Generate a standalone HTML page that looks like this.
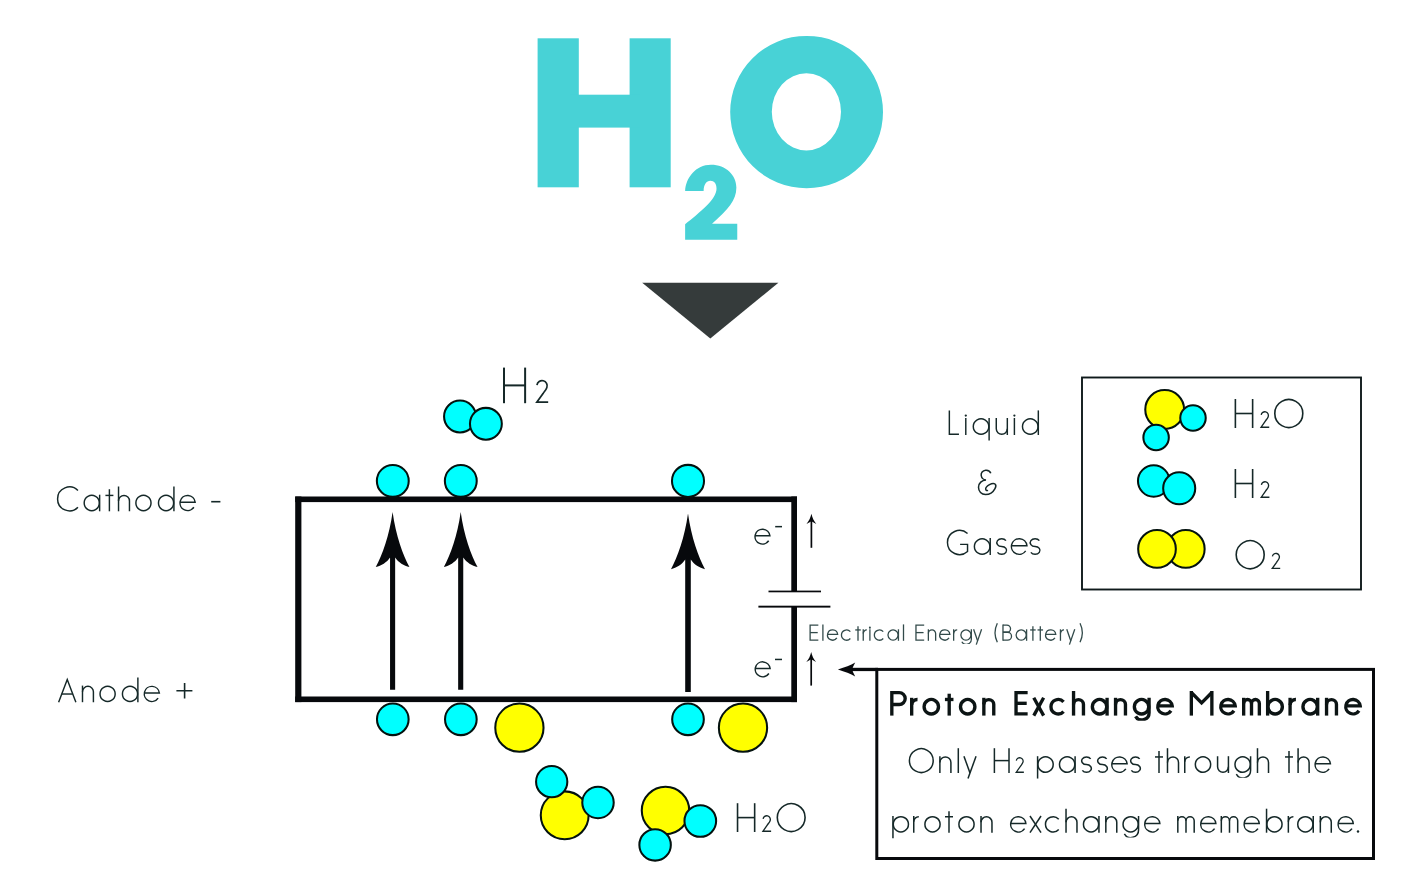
<!DOCTYPE html>
<html><head><meta charset="utf-8"><title>H2O electrolysis</title>
<style>html,body{margin:0;padding:0;background:#fff;font-family:"Liberation Sans",sans-serif}svg{display:block}</style>
</head><body>
<svg width="1420" height="892" viewBox="0 0 1420 892">
<title>H2O electrolysis - proton exchange membrane</title>
<desc>H2O. Cathode -. Anode +. H2. H2O. Liquid &amp; Gases: H2O, H2, O2. e-. Electrical Energy (Battery). Proton Exchange Membrane. Only H2 passes through the proton exchange memebrane.</desc>
<rect width="1420" height="892" fill="#ffffff"/>
<defs><clipPath id="c0"><rect x="-5" y="-49.2" width="60" height="52.48"/></clipPath><clipPath id="c1"><rect x="-5" y="-73.8" width="60" height="78.87"/></clipPath><clipPath id="c2"><rect x="-5" y="-74.4" width="60" height="79.19"/></clipPath><clipPath id="c3"><rect x="-5" y="-72" width="60" height="76.76"/></clipPath></defs>
<g fill="#48d2d6">
<rect x="537.6" y="38.3" width="41.2" height="149"/>
<rect x="629.6" y="38.3" width="41.1" height="149"/>
<rect x="570" y="94.7" width="70" height="32.9"/>
<path fill-rule="evenodd" d="M730.2,112.1 a76.4,76.2 0 1 0 152.8,0 a76.4,76.2 0 1 0 -152.8,0 Z M771.8,111.8 a34.6,38.6 0 1 1 69.2,0 a34.6,38.6 0 1 1 -69.2,0 Z"/>
<path d="M685.13,190.92 C685.7,178.03 695.78,164.8 710.92,164.8 C726.05,164.8 736.37,175.22 736.37,187.56 C736.37,200.45 728.3,209.42 712.04,223.77 L737.26,223.77 L737.26,239.69 L685.13,239.69 L685.13,224.22 C699.15,212.78 716.52,199.33 716.52,188.68 C716.52,183.63 714.28,180.83 710.36,180.83 C706.43,180.83 703.63,184.75 703.63,190.92 Z"/>
</g>
<path fill="#353b3b" d="M642.2,282.8 L778.4,282.8 L710.3,338.4 Z"/>
<g fill="#07090c">
<rect x="295.2" y="496.5" width="501.8" height="5.6"/>
<rect x="295.2" y="696.5" width="501.8" height="5.6"/>
<rect x="295.2" y="496.5" width="6.2" height="205.6"/>
<rect x="791.3" y="496.5" width="5.7" height="95.2"/>
<rect x="791.3" y="606.6" width="5.7" height="95.5"/>
<rect x="768.5" y="590.6" width="52.5" height="1.7"/>
<rect x="758.4" y="605.7" width="72" height="1.9"/>
</g>
<path fill="#07090c" d="M392.6,512 C395.87,535.76 403,555.07 409.43,567.04 C403.99,565.86 398.32,562.49 395.15,557.54 L395.15,689.8 L390.05,689.8 L390.05,557.54 C386.88,562.49 381.22,565.86 375.77,567.04 C382.21,555.07 389.33,535.76 392.6,512 Z"/>
<path fill="#07090c" d="M460.7,512 C463.97,535.76 471.09,555.07 477.53,567.04 C472.08,565.86 466.42,562.49 463.25,557.54 L463.25,689.8 L458.15,689.8 L458.15,557.54 C454.98,562.49 449.31,565.86 443.87,567.04 C450.31,555.07 457.43,535.76 460.7,512 Z"/>
<path fill="#07090c" d="M688,513.6 C691.3,537.6 698.5,557.1 705,569.2 C699.5,568 694,564.6 690.8,559.6 L690.8,692 L685.2,692 L685.2,559.6 C682,564.6 676.5,568 671,569.2 C677.5,557.1 684.7,537.6 688,513.6 Z"/>
<path d="M811.4,518.8 L811.4,547.8" stroke="#07090c" stroke-width="1.7" fill="none"/><path d="M811.4,513.8 C812.3,517.8 813.8,521 816.3,523.9 L811.4,521.2 L806.5,523.9 C809,521 810.5,517.8 811.4,513.8 Z" fill="#07090c"/>
<path d="M811.2,656.9 L811.2,685.6" stroke="#07090c" stroke-width="1.7" fill="none"/><path d="M811.2,651.9 C812.1,655.9 813.6,659.1 816.1,662 L811.2,659.3 L806.3,662 C808.8,659.1 810.3,655.9 811.2,651.9 Z" fill="#07090c"/>
<circle cx="460" cy="416.5" r="15.93" fill="#00ffff" stroke="#04120f" stroke-width="2.05"/>
<circle cx="485.9" cy="423.8" r="15.93" fill="#00ffff" stroke="#04120f" stroke-width="2.05"/>
<circle cx="392.8" cy="480.9" r="15.93" fill="#00ffff" stroke="#04120f" stroke-width="2.05"/>
<circle cx="460.8" cy="480.9" r="15.93" fill="#00ffff" stroke="#04120f" stroke-width="2.05"/>
<circle cx="688" cy="480.9" r="16.03" fill="#00ffff" stroke="#04120f" stroke-width="2.05"/>
<circle cx="392.8" cy="719.3" r="15.83" fill="#00ffff" stroke="#04120f" stroke-width="2.05"/>
<circle cx="460.85" cy="719.3" r="15.83" fill="#00ffff" stroke="#04120f" stroke-width="2.05"/>
<circle cx="688" cy="719.3" r="15.83" fill="#00ffff" stroke="#04120f" stroke-width="2.05"/>
<circle cx="519.4" cy="727.7" r="24.13" fill="#ffff00" stroke="#04120f" stroke-width="2.05"/>
<circle cx="743" cy="727.7" r="24.13" fill="#ffff00" stroke="#04120f" stroke-width="2.05"/>
<circle cx="564.7" cy="815.3" r="23.93" fill="#ffff00" stroke="#04120f" stroke-width="2.05"/>
<circle cx="551.7" cy="781.7" r="15.63" fill="#00ffff" stroke="#04120f" stroke-width="2.05"/>
<circle cx="598" cy="802.5" r="15.73" fill="#00ffff" stroke="#04120f" stroke-width="2.05"/>
<circle cx="665.5" cy="810.5" r="23.73" fill="#ffff00" stroke="#04120f" stroke-width="2.05"/>
<circle cx="700.3" cy="821" r="15.83" fill="#00ffff" stroke="#04120f" stroke-width="2.05"/>
<circle cx="655.1" cy="844.9" r="15.73" fill="#00ffff" stroke="#04120f" stroke-width="2.05"/>
<circle cx="1164.7" cy="409.5" r="19.43" fill="#ffff00" stroke="#04120f" stroke-width="2.05"/>
<circle cx="1193" cy="418" r="12.73" fill="#00ffff" stroke="#04120f" stroke-width="2.05"/>
<circle cx="1156.1" cy="437.5" r="12.73" fill="#00ffff" stroke="#04120f" stroke-width="2.05"/>
<circle cx="1153.7" cy="481" r="15.73" fill="#00ffff" stroke="#04120f" stroke-width="2.05"/>
<circle cx="1179.2" cy="488.3" r="16.03" fill="#00ffff" stroke="#04120f" stroke-width="2.05"/>
<circle cx="1185.8" cy="548.9" r="18.83" fill="#ffff00" stroke="#04120f" stroke-width="2.05"/>
<circle cx="1157" cy="548.9" r="18.83" fill="#ffff00" stroke="#04120f" stroke-width="2.05"/>
<rect x="1082" y="377.5" width="1279" height="0" fill="none"/>
<rect x="1082" y="377.5" width="279" height="212" fill="none" stroke="#0f1a1b" stroke-width="1.9"/>
<rect x="876.8" y="669.4" width="496.7" height="189.1" fill="none" stroke="#07090c" stroke-width="3.0"/>
<rect x="851" y="667.8" width="27" height="3.3" fill="#07090c"/>
<path fill="#07090c" d="M837.9,669.4 C845,667.2 850.5,665.2 855.2,662.4 C853.3,666 852.5,668 852.3,669.4 C852.5,670.8 853.3,672.8 855.2,676.4 C850.5,673.6 845,671.6 837.9,669.4 Z"/>
<g fill="none" color="#152828" stroke="#152828" stroke-width="1.45" stroke-linecap="butt" stroke-linejoin="miter"><g transform="translate(56.86,511.3)"><path d="M21.08,-20.83A11.92,11.92 0 0 0 0.72,-12.4A11.92,11.92 0 0 0 21.08,-3.97"/></g><g transform="translate(83.45,511.3)"><path d="M15.88,-8.3A7.58,7.58 0 0 1 4.51,-1.74A7.58,7.58 0 0 1 4.51,-14.86A7.58,7.58 0 0 1 15.88,-8.3Z"/><path d="M16.18,-16.6 L16.18,0"/></g><g transform="translate(105.42,511.3)"><path d="M3.98,-22.07 L3.98,0"/><path d="M0,-15.88 L7.97,-15.88"/></g><g transform="translate(117.82,511.3)"><path d="M0.72,-24.8 L0.72,0"/><path d="M0.72,-10.42A5.46,5.46 0 0 1 11.64,-10.42L11.64,0"/></g><g transform="translate(135.15,511.3)"><path d="M15.88,-8.3A7.58,7.58 0 0 1 4.51,-1.74A7.58,7.58 0 0 1 4.51,-14.86A7.58,7.58 0 0 1 15.88,-8.3Z"/></g><g transform="translate(157.75,511.3)"><path d="M15.88,-8.3A7.58,7.58 0 0 1 4.51,-1.74A7.58,7.58 0 0 1 4.51,-14.86A7.58,7.58 0 0 1 15.88,-8.3Z"/><path d="M16.18,-24.8 L16.18,0"/></g><g transform="translate(179.3,511.3)"><path d="M0.77,-9.13 L15.83,-9.13A7.58,7.58 0 0 0 0.95,-10.11A7.58,7.58 0 0 0 14.58,-4.06"/></g></g>
<rect x="211.2" y="500.9" width="9.2" height="1.6" fill="#152828"/>
<g fill="none" color="#152828" stroke="#152828" stroke-width="1.45" stroke-linecap="butt" stroke-linejoin="miter"><g transform="translate(57.83,702.2)"><path d="M0.8,0 L9.42,-22.74 L18.05,0"/><path d="M3.9,-8.18 L14.95,-8.18"/></g><g transform="translate(81.77,702.2)"><path d="M0.72,-16.6 L0.72,0"/><path d="M0.72,-10.42A5.46,5.46 0 0 1 11.64,-10.42L11.64,0"/></g><g transform="translate(99.3,702.2)"><path d="M15.88,-8.3A7.58,7.58 0 0 1 4.51,-1.74A7.58,7.58 0 0 1 4.51,-14.86A7.58,7.58 0 0 1 15.88,-8.3Z"/></g><g transform="translate(121.7,702.2)"><path d="M15.88,-8.3A7.58,7.58 0 0 1 4.51,-1.74A7.58,7.58 0 0 1 4.51,-14.86A7.58,7.58 0 0 1 15.88,-8.3Z"/><path d="M16.18,-24.8 L16.18,0"/></g><g transform="translate(143.55,702.2)"><path d="M0.77,-9.13 L15.83,-9.13A7.58,7.58 0 0 0 0.95,-10.11A7.58,7.58 0 0 0 14.58,-4.06"/></g></g>
<path d="M176.4,690.7 H192.4 M184.6,682.9 V698.6" stroke="#152828" stroke-width="1.6" fill="none"/>
<g fill="none" color="#152828" stroke="#152828" stroke-width="2" stroke-linecap="butt" stroke-linejoin="miter"><g transform="translate(502.98,403.2)"><path d="M1,-35.6 L1,0"/><path d="M22.14,-35.6 L22.14,0"/><path d="M1,-17.8 L22.14,-17.8"/></g><g transform="translate(535.91,403.2)"><path stroke-width="1.7" d="M1.05,-18.18A5.14,5.14 0 0 1 7.38,-22.45A5.14,5.14 0 0 1 10.96,-15.71C9.67,-12.16 8.35,-11.88 7.14,-9.65L0.9,-1 L12.27,-1"/></g></g>
<g fill="none" color="#152828" stroke="#152828" stroke-width="1.6" stroke-linecap="butt" stroke-linejoin="miter"><g transform="translate(1234.58,428)"><path d="M0.8,-29 L0.8,0"/><path d="M18.05,-29 L18.05,0"/><path d="M0.8,-14.5 L18.05,-14.5"/></g><g transform="translate(1260.38,428)"><path stroke-width="1.36" d="M0.84,-13.08A3.62,3.62 0 0 1 5.3,-16.09A3.62,3.62 0 0 1 7.82,-11.34C6.89,-8.79 5.98,-8.6 5.12,-7L0.72,-0.8 L8.84,-0.8"/></g><g transform="translate(1274.01,428)"><path d="M28.78,-14.5A13.99,13.99 0 0 1 7.8,-2.38A13.99,13.99 0 0 1 7.79,-26.62A13.99,13.99 0 0 1 28.78,-14.5Z"/></g></g>
<g fill="none" color="#152828" stroke="#152828" stroke-width="1.6" stroke-linecap="butt" stroke-linejoin="miter"><g transform="translate(1234.58,498)"><path d="M0.8,-29 L0.8,0"/><path d="M18.05,-29 L18.05,0"/><path d="M0.8,-14.5 L18.05,-14.5"/></g><g transform="translate(1260.58,498)"><path stroke-width="1.36" d="M0.84,-13.08A3.62,3.62 0 0 1 5.3,-16.09A3.62,3.62 0 0 1 7.82,-11.34C6.89,-8.79 5.98,-8.6 5.12,-7L0.72,-0.8 L8.84,-0.8"/></g></g>
<g fill="none" color="#152828" stroke="#152828" stroke-width="1.6" stroke-linecap="butt" stroke-linejoin="miter"><g transform="translate(1235.41,569.2)"><path d="M28.78,-14.5A13.99,13.99 0 0 1 7.8,-2.38A13.99,13.99 0 0 1 7.79,-26.62A13.99,13.99 0 0 1 28.78,-14.5Z"/></g><g transform="translate(1271.58,569.2)"><path stroke-width="1.36" d="M0.83,-12.77A3.52,3.52 0 0 1 5.17,-15.7A3.52,3.52 0 0 1 7.62,-11.08C6.71,-8.59 5.83,-8.41 5,-6.84L0.72,-0.8 L8.63,-0.8"/></g></g>
<g fill="none" color="#152828" stroke="#152828" stroke-width="1.6" stroke-linecap="butt" stroke-linejoin="miter"><g transform="translate(736.74,832)"><path d="M0.8,-28.8 L0.8,0"/><path d="M17.92,-28.8 L17.92,0"/><path d="M0.8,-14.4 L17.92,-14.4"/></g><g transform="translate(762.28,832)"><path stroke-width="1.36" d="M0.84,-13.08A3.62,3.62 0 0 1 5.3,-16.09A3.62,3.62 0 0 1 7.82,-11.34C6.89,-8.79 5.98,-8.6 5.12,-7L0.72,-0.8 L8.84,-0.8"/></g><g transform="translate(776.51,832)"><path d="M28.58,-14.4A13.89,13.89 0 0 1 7.74,-2.37A13.89,13.89 0 0 1 7.74,-26.43A13.89,13.89 0 0 1 28.58,-14.4Z"/></g></g>
<g fill="none" color="#152828" stroke="#152828" stroke-width="1.45" stroke-linecap="butt" stroke-linejoin="miter"><g transform="translate(948.63,435)"><path d="M0.72,-24.6 L0.72,-0.72 L10.33,-0.72"/></g><g transform="translate(965.07,435)"><path d="M0.72,-17 L0.72,0"/><circle cx="0.72" cy="-19.46" r="1.13" fill="currentColor" stroke="none"/></g><g transform="translate(972.55,435)"><path d="M16.27,-8.5A7.78,7.78 0 0 1 4.61,-1.77A7.78,7.78 0 0 1 4.61,-15.23A7.78,7.78 0 0 1 16.27,-8.5Z"/><path d="M16.57,-17 L16.57,5.61"/></g><g transform="translate(995.55,435)"><path d="M11.77,-17 L11.77,0"/><path d="M0.72,-17L0.72,-6.25A5.52,5.52 0 0 0 11.77,-6.25"/></g><g transform="translate(1013.68,435)"><path d="M0.72,-17 L0.72,0"/><circle cx="0.72" cy="-19.46" r="1.13" fill="currentColor" stroke="none"/></g><g transform="translate(1021.75,435)"><path d="M16.27,-8.5A7.78,7.78 0 0 1 4.61,-1.77A7.78,7.78 0 0 1 4.61,-15.23A7.78,7.78 0 0 1 16.27,-8.5Z"/><path d="M16.57,-24.6 L16.57,0"/></g></g>
<path transform="translate(936,455) scale(0.1)" fill="none" stroke="#152828" stroke-width="15" d="M548,182 C540,160 518,150 496,152 C466,155 448,180 452,205 C456,232 475,247 500,250 C460,252 425,280 425,322 C425,365 455,395 495,395 C535,395 572,370 590,336 C600,318 602,300 590,290 C578,281 555,285 535,297 C513,310 494,326 497,342 C499,356 510,359 520,353"/>
<g fill="none" color="#152828" stroke="#152828" stroke-width="1.45" stroke-linecap="butt" stroke-linejoin="miter"><g transform="translate(946.74,555)"><path d="M20.8,-21.44A12.03,12.03 0 0 0 0.72,-12.5A12.03,12.03 0 0 0 20.8,-3.56L20.8,-10.62 L13.35,-10.62"/></g><g transform="translate(973.65,555)"><path d="M16.27,-8.5A7.78,7.78 0 0 1 4.61,-1.77A7.78,7.78 0 0 1 4.61,-15.23A7.78,7.78 0 0 1 16.27,-8.5Z"/><path d="M16.57,-17 L16.57,0"/></g><g transform="translate(996.09,555)"><path d="M9.84,-14.33A4.89,3.89 0 0 0 1.38,-14.33A4.89,3.89 0 0 0 5.61,-8.5A4.89,3.89 0 0 1 9.84,-2.67A4.89,3.89 0 0 1 1.38,-2.67"/></g><g transform="translate(1010.7,555)"><path d="M0.77,-9.35 L16.23,-9.35A7.78,7.78 0 0 0 0.95,-10.36A7.78,7.78 0 0 0 14.95,-4.15"/></g><g transform="translate(1029.49,555)"><path d="M9.84,-14.33A4.89,3.89 0 0 0 1.38,-14.33A4.89,3.89 0 0 0 5.61,-8.5A4.89,3.89 0 0 1 9.84,-2.67A4.89,3.89 0 0 1 1.38,-2.67"/></g></g>
<g fill="none" color="#152828" stroke="#152828" stroke-width="1.5" stroke-linecap="butt" stroke-linejoin="miter"><g transform="translate(754.3,544.8)"><path d="M0.8,-9.02 L15.6,-9.02A7.45,7.45 0 0 0 0.97,-9.98A7.45,7.45 0 0 0 14.38,-4.03"/></g></g>
<rect x="775.2" y="525.9" width="6.8" height="1.5" fill="#152828"/>
<g fill="none" color="#152828" stroke="#152828" stroke-width="1.5" stroke-linecap="butt" stroke-linejoin="miter"><g transform="translate(754.5,677.5)"><path d="M0.8,-9.02 L15.6,-9.02A7.45,7.45 0 0 0 0.97,-9.98A7.45,7.45 0 0 0 14.38,-4.03"/></g></g>
<rect x="775" y="658.7" width="7" height="1.5" fill="#152828"/>
<g fill="none" color="#324a4a" stroke="#324a4a" stroke-width="1.3" stroke-linecap="butt" stroke-linejoin="miter"><g transform="translate(809.47,640.8)"><path d="M8.86,-15.75 L0.65,-15.75 L0.65,-0.65 L8.86,-0.65"/><path d="M0.65,-8.2 L8.24,-8.2"/></g><g transform="translate(822.25,640.8)"><path d="M0.65,-16.4 L0.65,0"/></g><g transform="translate(826.85,640.8)"><path d="M0.68,-6.33 L10.82,-6.33A5.1,5.1 0 0 0 0.8,-6.96A5.1,5.1 0 0 0 9.98,-2.9"/></g><g transform="translate(840.81,640.8)"><path d="M9.54,-9.16A5.1,5.1 0 0 0 0.65,-5.75A5.1,5.1 0 0 0 9.54,-2.34"/></g><g transform="translate(855.24,640.8)"><path d="M2.76,-14.6 L2.76,0"/><path d="M0,-10.85 L5.52,-10.85"/></g><g transform="translate(862.6,640.8)"><path d="M0.65,-11.5 L0.65,0"/><path d="M0.65,-7.42A3.43,3.43 0 0 1 4.2,-10.85"/></g><g transform="translate(869.25,640.8)"><path d="M0.65,-11.5 L0.65,0"/><circle cx="0.65" cy="-13.17" r="1.01" fill="currentColor" stroke="none"/></g><g transform="translate(873.71,640.8)"><path d="M9.54,-9.16A5.1,5.1 0 0 0 0.65,-5.75A5.1,5.1 0 0 0 9.54,-2.34"/></g><g transform="translate(887.3,640.8)"><path d="M10.85,-5.75A5.1,5.1 0 0 1 3.2,-1.33A5.1,5.1 0 0 1 3.2,-10.17A5.1,5.1 0 0 1 10.85,-5.75Z"/><path d="M11.15,-11.5 L11.15,0"/></g><g transform="translate(902.85,640.8)"><path d="M0.65,-16.4 L0.65,0"/></g><g transform="translate(915.32,640.8)"><path d="M8.86,-15.75 L0.65,-15.75 L0.65,-0.65 L8.86,-0.65"/><path d="M0.65,-8.2 L8.24,-8.2"/></g><g transform="translate(927.72,640.8)"><path d="M0.65,-11.5 L0.65,0"/><path d="M0.65,-7.22A3.63,3.63 0 0 1 7.92,-7.22L7.92,0"/></g><g transform="translate(939.05,640.8)"><path d="M0.68,-6.33 L10.82,-6.33A5.1,5.1 0 0 0 0.8,-6.96A5.1,5.1 0 0 0 9.98,-2.9"/></g><g transform="translate(953,640.8)"><path d="M0.65,-11.5 L0.65,0"/><path d="M0.65,-7.42A3.43,3.43 0 0 1 4.2,-10.85"/></g><g transform="translate(960.2,640.8)"><path d="M10.85,-5.75A5.1,5.1 0 0 1 3.2,-1.33A5.1,5.1 0 0 1 3.2,-10.17A5.1,5.1 0 0 1 10.85,-5.75Z"/><path clip-path="url(#c0)" d="M11.15,-11.5 L11.15,-1.57A5.1,5.1 0 0 1 1.63,0.98"/></g><g transform="translate(972.88,640.8)"><path d="M0.72,-11.5 L4.71,0"/><path d="M8.71,-11.5 L3.39,3.8"/></g><g transform="translate(994.05,640.8)"><path d="M3.28,-17.55 Q-1.33,-8.04 3.28,1.48"/></g><g transform="translate(1002.33,640.8)"><path d="M0.65,0 L0.65,-16.4"/><path d="M0.65,-15.75 L4.59,-15.75 A3.61,3.61 0 0 1 4.59,-8.53 L0.65,-8.53"/><path d="M0.65,-8.53 L5.25,-8.53 A3.94,3.94 0 0 1 5.25,-0.65 L0.65,-0.65"/></g><g transform="translate(1015.45,640.8)"><path d="M10.85,-5.75A5.1,5.1 0 0 1 3.2,-1.33A5.1,5.1 0 0 1 3.2,-10.17A5.1,5.1 0 0 1 10.85,-5.75Z"/><path d="M11.15,-11.5 L11.15,0"/></g><g transform="translate(1030.14,640.8)"><path d="M2.76,-14.6 L2.76,0"/><path d="M0,-10.85 L5.52,-10.85"/></g><g transform="translate(1037.54,640.8)"><path d="M2.76,-14.6 L2.76,0"/><path d="M0,-10.85 L5.52,-10.85"/></g><g transform="translate(1044.95,640.8)"><path d="M0.68,-6.33 L10.82,-6.33A5.1,5.1 0 0 0 0.8,-6.96A5.1,5.1 0 0 0 9.98,-2.9"/></g><g transform="translate(1059.8,640.8)"><path d="M0.65,-11.5 L0.65,0"/><path d="M0.65,-7.42A3.43,3.43 0 0 1 4.2,-10.85"/></g><g transform="translate(1066.04,640.8)"><path d="M0.72,-11.5 L4.71,0"/><path d="M8.71,-11.5 L3.39,3.8"/></g><g transform="translate(1079.7,640.8)"><path d="M0.33,-17.55 Q4.94,-8.04 0.33,1.48"/></g></g>
<g fill="none" color="#0c1414" stroke="#0c1414" stroke-width="3.35" stroke-linecap="butt" stroke-linejoin="miter"><g transform="translate(890.14,715.6)"><path d="M1.68,0 L1.68,-24.6"/><path d="M1.68,-22.93 L9.13,-22.93 A5.93,5.93 0 0 1 9.13,-11.07 L1.68,-11.07"/></g><g transform="translate(910,715.6)"><path d="M1.68,-17.8 L1.68,0"/><path d="M1.67,-10.48A5.64,5.64 0 0 1 7.52,-16.12"/></g><g transform="translate(922.4,715.6)"><path d="M16.12,-8.9A7.23,7.23 0 0 1 5.29,-2.64A7.23,7.23 0 0 1 5.29,-15.16A7.23,7.23 0 0 1 16.12,-8.9Z"/></g><g transform="translate(944.93,715.6)"><path d="M4.27,-21.89 L4.27,0"/><path d="M0,-16.12 L8.54,-16.12"/></g><g transform="translate(958.8,715.6)"><path d="M16.12,-8.9A7.23,7.23 0 0 1 5.29,-2.64A7.23,7.23 0 0 1 5.29,-15.16A7.23,7.23 0 0 1 16.12,-8.9Z"/></g><g transform="translate(982.17,715.6)"><path d="M1.68,-17.8 L1.68,0"/><path d="M1.68,-11.17A4.96,4.96 0 0 1 11.59,-11.17L11.59,0"/></g><g transform="translate(1014.36,715.6)"><path d="M13.28,-22.93 L1.68,-22.93 L1.68,-1.68 L13.28,-1.68"/><path d="M1.68,-12.3 L12.35,-12.3"/></g><g transform="translate(1031.94,715.6)"><path d="M1.84,-17.8 L11.69,0"/><path d="M11.69,-17.8 L1.84,0"/></g><g transform="translate(1049.3,715.6)"><path d="M14.27,-13.73A7.23,7.23 0 0 0 1.67,-8.9A7.23,7.23 0 0 0 14.27,-4.07"/></g><g transform="translate(1071.87,715.6)"><path d="M1.68,-24.6 L1.68,0"/><path d="M1.68,-11.17A4.96,4.96 0 0 1 11.59,-11.17L11.59,0"/></g><g transform="translate(1090.65,715.6)"><path d="M16.12,-8.9A7.23,7.23 0 0 1 5.29,-2.64A7.23,7.23 0 0 1 5.29,-15.16A7.23,7.23 0 0 1 16.12,-8.9Z"/><path d="M16.43,-17.8 L16.43,0"/></g><g transform="translate(1113.87,715.6)"><path d="M1.68,-17.8 L1.68,0"/><path d="M1.68,-11.17A4.96,4.96 0 0 1 11.59,-11.17L11.59,0"/></g><g transform="translate(1132.65,715.6)"><path d="M16.12,-8.9A7.23,7.23 0 0 1 5.29,-2.64A7.23,7.23 0 0 1 5.29,-15.16A7.23,7.23 0 0 1 16.12,-8.9Z"/><path clip-path="url(#c1)" d="M16.43,-17.8 L16.43,-2.93A7.23,7.23 0 0 1 2.94,0.69"/></g><g transform="translate(1156.1,715.6)"><path d="M1.73,-9.79 L16.07,-9.79A7.23,7.23 0 0 0 1.87,-10.58A7.23,7.23 0 0 0 14.89,-4.86"/></g><g transform="translate(1189.67,715.6)"><path d="M1.68,0 L1.68,-24.6"/><path d="M22.19,0 L22.19,-24.6"/><path d="M1.68,-23.09 L11.93,-12.78 L22.19,-23.09"/></g><g transform="translate(1219.1,715.6)"><path d="M1.73,-9.79 L16.07,-9.79A7.23,7.23 0 0 0 1.87,-10.58A7.23,7.23 0 0 0 14.89,-4.86"/></g><g transform="translate(1241.98,715.6)"><path d="M1.68,-17.8 L1.68,0"/><path d="M1.68,-12.2A3.92,3.92 0 0 1 9.52,-12.2L9.52,0"/><path d="M9.52,-12.2A3.92,3.92 0 0 1 17.37,-12.2L17.37,0"/></g><g transform="translate(1265.95,715.6)"><path d="M16.43,-8.9A7.23,7.23 0 0 1 5.59,-2.64A7.23,7.23 0 0 1 5.59,-15.16A7.23,7.23 0 0 1 16.43,-8.9Z"/><path d="M1.68,-24.6 L1.68,0"/></g><g transform="translate(1288.4,715.6)"><path d="M1.68,-17.8 L1.68,0"/><path d="M1.67,-10.48A5.64,5.64 0 0 1 7.52,-16.12"/></g><g transform="translate(1301.25,715.6)"><path d="M16.12,-8.9A7.23,7.23 0 0 1 5.29,-2.64A7.23,7.23 0 0 1 5.29,-15.16A7.23,7.23 0 0 1 16.12,-8.9Z"/><path d="M16.43,-17.8 L16.43,0"/></g><g transform="translate(1324.87,715.6)"><path d="M1.68,-17.8 L1.68,0"/><path d="M1.68,-11.17A4.96,4.96 0 0 1 11.59,-11.17L11.59,0"/></g><g transform="translate(1344.1,715.6)"><path d="M1.73,-9.79 L16.07,-9.79A7.23,7.23 0 0 0 1.87,-10.58A7.23,7.23 0 0 0 14.89,-4.86"/></g></g>
<g fill="none" color="#152828" stroke="#152828" stroke-width="1.5" stroke-linecap="butt" stroke-linejoin="miter"><g transform="translate(908.65,773)"><path d="M24.55,-12.4A11.9,11.9 0 0 1 6.7,-2.1A11.9,11.9 0 0 1 6.7,-22.7A11.9,11.9 0 0 1 24.55,-12.4Z"/></g><g transform="translate(939.14,773)"><path d="M0.75,-16.8 L0.75,0"/><path d="M0.75,-10.54A5.51,5.51 0 0 1 11.77,-10.54L11.77,0"/></g><g transform="translate(957.55,773)"><path d="M0.75,-24.8 L0.75,0"/></g><g transform="translate(963.11,773)"><path d="M0.83,-16.8 L6.89,0"/><path d="M12.95,-16.8 L4.89,5.54"/></g><g transform="translate(993.64,773)"><path d="M0.75,-24.8 L0.75,0"/><path d="M15.37,-24.8 L15.37,0"/><path d="M0.75,-12.4 L15.37,-12.4"/></g><g transform="translate(1015.54,773)"><path stroke-width="1.27" d="M0.78,-12.31A3.41,3.41 0 0 1 4.98,-15.15A3.41,3.41 0 0 1 7.36,-10.67C6.49,-8.27 5.63,-8.09 4.82,-6.58L0.68,-0.75 L8.32,-0.75"/></g><g transform="translate(1036.85,773)"><path d="M16.35,-8.4A7.65,7.65 0 0 1 4.88,-1.77A7.65,7.65 0 0 1 4.87,-15.03A7.65,7.65 0 0 1 16.35,-8.4Z"/><path d="M0.75,-16.8 L0.75,5.54"/></g><g transform="translate(1058.75,773)"><path d="M16.05,-8.4A7.65,7.65 0 0 1 4.58,-1.77A7.65,7.65 0 0 1 4.57,-15.03A7.65,7.65 0 0 1 16.05,-8.4Z"/><path d="M16.35,-16.8 L16.35,0"/></g><g transform="translate(1080.96,773)"><path d="M9.7,-14.14A4.79,3.83 0 0 0 1.39,-14.14A4.79,3.83 0 0 0 5.54,-8.4A4.79,3.83 0 0 1 9.7,-2.66A4.79,3.83 0 0 1 1.39,-2.66"/></g><g transform="translate(1096.96,773)"><path d="M9.7,-14.14A4.79,3.83 0 0 0 1.39,-14.14A4.79,3.83 0 0 0 5.54,-8.4A4.79,3.83 0 0 1 9.7,-2.66A4.79,3.83 0 0 1 1.39,-2.66"/></g><g transform="translate(1111.1,773)"><path d="M0.8,-9.24 L16,-9.24A7.65,7.65 0 0 0 0.97,-10.23A7.65,7.65 0 0 0 14.74,-4.12"/></g><g transform="translate(1129.96,773)"><path d="M9.7,-14.14A4.79,3.83 0 0 0 1.39,-14.14A4.79,3.83 0 0 0 5.54,-8.4A4.79,3.83 0 0 1 9.7,-2.66A4.79,3.83 0 0 1 1.39,-2.66"/></g><g transform="translate(1154.97,773)"><path d="M4.03,-22.07 L4.03,0"/><path d="M0,-16.05 L8.06,-16.05"/></g><g transform="translate(1166.74,773)"><path d="M0.75,-24.8 L0.75,0"/><path d="M0.75,-10.54A5.51,5.51 0 0 1 11.77,-10.54L11.77,0"/></g><g transform="translate(1184,773)"><path d="M0.75,-16.8 L0.75,0"/><path d="M0.75,-11.14A4.91,4.91 0 0 1 5.83,-16.05"/></g><g transform="translate(1194.6,773)"><path d="M16.05,-8.4A7.65,7.65 0 0 1 4.58,-1.77A7.65,7.65 0 0 1 4.57,-15.03A7.65,7.65 0 0 1 16.05,-8.4Z"/></g><g transform="translate(1216.83,773)"><path d="M11.6,-16.8 L11.6,0"/><path d="M0.75,-16.8L0.75,-6.17A5.42,5.42 0 0 0 11.6,-6.17"/></g><g transform="translate(1234.25,773)"><path d="M16.05,-8.4A7.65,7.65 0 0 1 4.58,-1.77A7.65,7.65 0 0 1 4.57,-15.03A7.65,7.65 0 0 1 16.05,-8.4Z"/><path clip-path="url(#c2)" d="M16.35,-16.8 L16.35,-2.71A7.65,7.65 0 0 1 2.07,1.11"/></g><g transform="translate(1256.74,773)"><path d="M0.75,-24.8 L0.75,0"/><path d="M0.75,-10.54A5.51,5.51 0 0 1 11.77,-10.54L11.77,0"/></g><g transform="translate(1284.97,773)"><path d="M4.03,-22.07 L4.03,0"/><path d="M0,-16.05 L8.06,-16.05"/></g><g transform="translate(1297.34,773)"><path d="M0.75,-24.8 L0.75,0"/><path d="M0.75,-10.54A5.51,5.51 0 0 1 11.77,-10.54L11.77,0"/></g><g transform="translate(1314.4,773)"><path d="M0.8,-9.24 L16,-9.24A7.65,7.65 0 0 0 0.97,-10.23A7.65,7.65 0 0 0 14.74,-4.12"/></g></g>
<g fill="none" color="#152828" stroke="#152828" stroke-width="1.5" stroke-linecap="butt" stroke-linejoin="miter"><g transform="translate(892.2,832.7)"><path d="M16.25,-8.35A7.6,7.6 0 0 1 4.85,-1.77A7.6,7.6 0 0 1 4.85,-14.93A7.6,7.6 0 0 1 16.25,-8.35Z"/><path d="M0.75,-16.7 L0.75,5.51"/></g><g transform="translate(913,832.7)"><path d="M0.75,-16.7 L0.75,0"/><path d="M0.75,-11.07A4.88,4.88 0 0 1 5.8,-15.95"/></g><g transform="translate(924.15,832.7)"><path d="M15.95,-8.35A7.6,7.6 0 0 1 4.55,-1.77A7.6,7.6 0 0 1 4.55,-14.93A7.6,7.6 0 0 1 15.95,-8.35Z"/></g><g transform="translate(944.99,832.7)"><path d="M4.01,-21.36 L4.01,0"/><path d="M0,-15.95 L8.02,-15.95"/></g><g transform="translate(958.15,832.7)"><path d="M15.95,-8.35A7.6,7.6 0 0 1 4.55,-1.77A7.6,7.6 0 0 1 4.55,-14.93A7.6,7.6 0 0 1 15.95,-8.35Z"/></g><g transform="translate(980.28,832.7)"><path d="M0.75,-16.7 L0.75,0"/><path d="M0.75,-10.48A5.47,5.47 0 0 1 11.69,-10.48L11.69,0"/></g><g transform="translate(1009.95,832.7)"><path d="M0.8,-9.18 L15.9,-9.18A7.6,7.6 0 0 0 0.97,-10.17A7.6,7.6 0 0 0 14.65,-4.1"/></g><g transform="translate(1029.15,832.7)"><path d="M0.83,-16.7 L11.87,0"/><path d="M11.87,-16.7 L0.83,0"/></g><g transform="translate(1044.73,832.7)"><path d="M14,-13.44A7.6,7.6 0 0 0 0.75,-8.35A7.6,7.6 0 0 0 14,-3.26"/></g><g transform="translate(1065.28,832.7)"><path d="M0.75,-24 L0.75,0"/><path d="M0.75,-10.48A5.47,5.47 0 0 1 11.69,-10.48L11.69,0"/></g><g transform="translate(1082.7,832.7)"><path d="M15.95,-8.35A7.6,7.6 0 0 1 4.55,-1.77A7.6,7.6 0 0 1 4.55,-14.93A7.6,7.6 0 0 1 15.95,-8.35Z"/><path d="M16.25,-16.7 L16.25,0"/></g><g transform="translate(1105.08,832.7)"><path d="M0.75,-16.7 L0.75,0"/><path d="M0.75,-10.48A5.47,5.47 0 0 1 11.69,-10.48L11.69,0"/></g><g transform="translate(1122.3,832.7)"><path d="M15.95,-8.35A7.6,7.6 0 0 1 4.55,-1.77A7.6,7.6 0 0 1 4.55,-14.93A7.6,7.6 0 0 1 15.95,-8.35Z"/><path clip-path="url(#c3)" d="M16.25,-16.7 L16.25,-2.69A7.6,7.6 0 0 1 2.07,1.11"/></g><g transform="translate(1143.95,832.7)"><path d="M0.8,-9.18 L15.9,-9.18A7.6,7.6 0 0 0 0.97,-10.17A7.6,7.6 0 0 0 14.65,-4.1"/></g><g transform="translate(1177.07,832.7)"><path d="M0.75,-16.7 L0.75,0"/><path d="M0.75,-11.86A4.09,4.09 0 0 1 8.93,-11.86L8.93,0"/><path d="M8.93,-11.86A4.09,4.09 0 0 1 17.12,-11.86L17.12,0"/></g><g transform="translate(1199.95,832.7)"><path d="M0.8,-9.18 L15.9,-9.18A7.6,7.6 0 0 0 0.97,-10.17A7.6,7.6 0 0 0 14.65,-4.1"/></g><g transform="translate(1220.57,832.7)"><path d="M0.75,-16.7 L0.75,0"/><path d="M0.75,-11.86A4.09,4.09 0 0 1 8.93,-11.86L8.93,0"/><path d="M8.93,-11.86A4.09,4.09 0 0 1 17.12,-11.86L17.12,0"/></g><g transform="translate(1243.35,832.7)"><path d="M0.8,-9.18 L15.9,-9.18A7.6,7.6 0 0 0 0.97,-10.17A7.6,7.6 0 0 0 14.65,-4.1"/></g><g transform="translate(1265.8,832.7)"><path d="M16.25,-8.35A7.6,7.6 0 0 1 4.85,-1.77A7.6,7.6 0 0 1 4.85,-14.93A7.6,7.6 0 0 1 16.25,-8.35Z"/><path d="M0.75,-24 L0.75,0"/></g><g transform="translate(1287.6,832.7)"><path d="M0.75,-16.7 L0.75,0"/><path d="M0.75,-11.07A4.88,4.88 0 0 1 5.8,-15.95"/></g><g transform="translate(1297,832.7)"><path d="M15.95,-8.35A7.6,7.6 0 0 1 4.55,-1.77A7.6,7.6 0 0 1 4.55,-14.93A7.6,7.6 0 0 1 15.95,-8.35Z"/><path d="M16.25,-16.7 L16.25,0"/></g><g transform="translate(1319.58,832.7)"><path d="M0.75,-16.7 L0.75,0"/><path d="M0.75,-10.48A5.47,5.47 0 0 1 11.69,-10.48L11.69,0"/></g><g transform="translate(1337.35,832.7)"><path d="M0.8,-9.18 L15.9,-9.18A7.6,7.6 0 0 0 0.97,-10.17A7.6,7.6 0 0 0 14.65,-4.1"/></g><g transform="translate(1356.8,832.7)"><circle cx="1.2" cy="-1.2" r="1.2" fill="currentColor" stroke="none"/></g></g>
</svg>
</body></html>
